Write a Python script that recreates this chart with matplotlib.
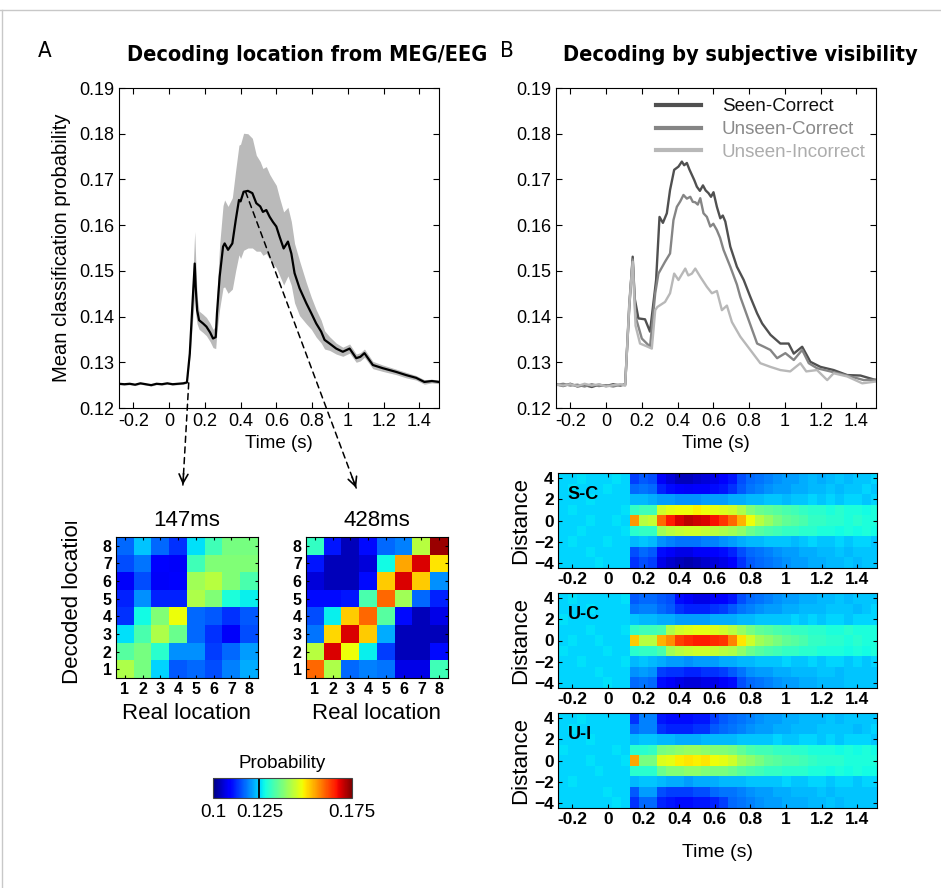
import numpy as np
import matplotlib
matplotlib.use('Agg')
import matplotlib.pyplot as plt
from matplotlib import font_manager
from matplotlib.font_manager import FontProperties
from matplotlib.patches import ConnectionPatch
from matplotlib.lines import Line2D
from matplotlib.transforms import Bbox, TransformedBbox

names = {f.name for f in font_manager.fontManager.ttflist}
base_font = 'Liberation Sans' if 'Liberation Sans' in names else 'DejaVu Sans'
plt.rcParams['font.family'] = [base_font, 'DejaVu Sans']


def find_narrow(bold):
    # look for a condensed sans file (Liberation Sans Narrow / DejaVu Sans Condensed)
    for f in font_manager.fontManager.ttflist:
        fn = f.fname.lower().replace('-', '').replace('_', '')
        if 'sans' not in fn or 'mono' in fn or 'italic' in fn or 'oblique' in fn:
            continue
        if 'narrow' in fn or 'condensed' in fn:
            if ('bold' in fn) == bold:
                return f.fname
    return None


narrow_bold = find_narrow(True)
narrow_reg = find_narrow(False)

# ---- panel A: mean decoding curve +- sem
a_t = [-0.28, -0.25, -0.22, -0.19, -0.16, -0.13, -0.10, -0.07, -0.04, -0.01, 0.02, 0.05, 0.08, 0.10,
       0.116, 0.13, 0.1436, 0.149, 0.157, 0.168, 0.19, 0.209, 0.23, 0.246,
       0.261, 0.268, 0.283, 0.302, 0.311, 0.33, 0.354, 0.373, 0.391, 0.40,
       0.417, 0.441, 0.466, 0.488, 0.51, 0.525, 0.544, 0.563, 0.581, 0.60,
       0.618, 0.641, 0.665, 0.684, 0.702, 0.73, 0.768, 0.796, 0.823, 0.851,
       0.87, 0.898, 0.935, 0.972, 1.01, 1.047, 1.07, 1.093, 1.14, 1.196,
       1.27, 1.326, 1.382, 1.428, 1.47, 1.51]
a_mean = [0.1253, 0.1252, 0.1253, 0.1251, 0.1254, 0.1252, 0.1250, 0.1253, 0.1252, 0.1254, 0.1252, 0.1253, 0.1254, 0.1256,
          0.1319, 0.1421, 0.1516, 0.1465, 0.1414, 0.1392, 0.1385, 0.1378, 0.1365, 0.1352,
          0.1355, 0.1407, 0.1487, 0.1553, 0.1560, 0.1546, 0.1560, 0.1611, 0.1655, 0.1652,
          0.1673, 0.1675, 0.1670, 0.1648, 0.1641, 0.1629, 0.1633, 0.1618, 0.1607, 0.1597,
          0.1575, 0.1549, 0.1564, 0.1538, 0.1495, 0.1462, 0.1429, 0.1407, 0.1385, 0.1367,
          0.1349, 0.1341, 0.1330, 0.1323, 0.1330, 0.1309, 0.1312, 0.1320, 0.1294, 0.1287,
          0.1279, 0.1272, 0.1266, 0.1257, 0.1259, 0.1257]
a_sem = [0.0002] * 14 + [
    0.001, 0.004, 0.007, 0.006, 0.003, 0.002, 0.002, 0.002, 0.002, 0.002,
    0.0025, 0.004, 0.007, 0.009, 0.0095, 0.0095, 0.010, 0.011, 0.012, 0.0125,
    0.0128, 0.0125, 0.012, 0.0105, 0.0098, 0.0095, 0.0095, 0.0093, 0.0092, 0.009,
    0.0085, 0.008, 0.0075, 0.007, 0.0065, 0.006, 0.0045, 0.0035, 0.003, 0.0025,
    0.002, 0.0015, 0.0012, 0.001, 0.001, 0.0009, 0.0009, 0.0009, 0.0008, 0.0007,
    0.0006, 0.0006, 0.0005, 0.0005, 0.0004, 0.0004]

# ---- panel B: three visibility conditions
base_t = [-0.28, -0.24, -0.20, -0.16, -0.12, -0.08, -0.04, 0.0, 0.04, 0.08, 0.107]
sc_t = base_t + [0.13, 0.149, 0.16, 0.181, 0.218, 0.246, 0.258, 0.28, 0.299, 0.318,
                 0.34, 0.358, 0.381, 0.405, 0.424, 0.437, 0.452, 0.466, 0.48, 0.494,
                 0.508, 0.525, 0.542, 0.557, 0.573, 0.587, 0.601, 0.62, 0.639, 0.653,
                 0.667, 0.695, 0.732, 0.77, 0.807, 0.845, 0.873, 0.92, 0.975,
                 1.021, 1.05, 1.097, 1.143, 1.199, 1.273, 1.349, 1.423, 1.51]
sc_v = [0.1252, 0.1248, 0.1253, 0.1247, 0.1250, 0.1246, 0.1251, 0.1248, 0.1252, 0.1249, 0.1252,
        0.1420, 0.1531, 0.1440, 0.1396, 0.1394, 0.1367, 0.1407, 0.1480, 0.1618, 0.1605,
        0.1626, 0.1677, 0.1721, 0.1728, 0.1739, 0.1731, 0.1736, 0.1722, 0.1710, 0.1698,
        0.1684, 0.1675, 0.1687, 0.1676, 0.1670, 0.1662, 0.1672, 0.1640, 0.1615, 0.1621,
        0.1608, 0.1553, 0.1509, 0.1480, 0.1443, 0.1407, 0.1385, 0.1360, 0.1341,
        0.1341, 0.1319, 0.1334, 0.1301, 0.1290, 0.1283, 0.1272, 0.1271, 0.1261]
uc_t = base_t + [0.13, 0.149, 0.165, 0.20, 0.246, 0.275, 0.293, 0.33, 0.358, 0.377,
                 0.396, 0.415, 0.433, 0.452, 0.471, 0.485, 0.499, 0.513, 0.527, 0.545,
                 0.564, 0.583, 0.60, 0.62, 0.638, 0.657, 0.695,
                 0.732, 0.751, 0.798, 0.845, 0.883, 0.919, 0.957, 1.003, 1.05, 1.097,
                 1.134, 1.18, 1.255, 1.349, 1.442, 1.51]
uc_v = [0.1250, 0.1253, 0.1249, 0.1251, 0.1247, 0.1252, 0.1248, 0.1250, 0.1247, 0.1251, 0.1250,
        0.1430, 0.1525, 0.1400, 0.1352, 0.1334, 0.1451, 0.1494, 0.1520, 0.1538, 0.1611,
        0.1640, 0.1652, 0.1666, 0.1658, 0.1662, 0.1651, 0.1650, 0.1645, 0.1659, 0.1626,
        0.1618, 0.1597, 0.1603, 0.1589, 0.1572, 0.1546, 0.1509,
        0.1470, 0.1443, 0.1392, 0.1341, 0.1334, 0.1327, 0.1309, 0.1320, 0.1305, 0.1327,
        0.1298, 0.1287, 0.1280, 0.1271, 0.1261, 0.1262]
ui_t = base_t + [0.13, 0.149, 0.165, 0.19, 0.227, 0.256, 0.275, 0.287, 0.33, 0.358,
                 0.381, 0.405, 0.443, 0.46, 0.48, 0.499, 0.527, 0.564, 0.592, 0.62, 0.648,
                 0.676, 0.704, 0.751, 0.807, 0.863, 0.919, 0.975, 1.03, 1.087, 1.12,
                 1.18, 1.237, 1.273, 1.349, 1.433, 1.51]
ui_v = [0.1251, 0.1249, 0.1252, 0.1248, 0.1253, 0.1249, 0.1252, 0.1247, 0.1250, 0.1252, 0.1249,
        0.1425, 0.1520, 0.1380, 0.1341, 0.1335, 0.1330, 0.1414, 0.1421, 0.1432, 0.1451,
        0.1494, 0.1480, 0.1505, 0.1490, 0.1494, 0.1505, 0.1487, 0.1465, 0.1451, 0.1456, 0.1414,
        0.1424, 0.1388, 0.1356, 0.1327, 0.1298, 0.1290, 0.1283, 0.1280, 0.1298, 0.1280,
        0.1283, 0.1261, 0.1276, 0.1269, 0.1254, 0.1258]
cond_labels = ['Seen-Correct', 'Unseen-Correct', 'Unseen-Incorrect']

# ---- confusion matrices (rows = decoded location 8..1, cols = real location 1..8)
mat_147 = [[0.117, 0.124, 0.117, 0.113, 0.126, 0.132, 0.137, 0.137],
           [0.115, 0.118, 0.109, 0.108, 0.132, 0.138, 0.138, 0.138],
           [0.108, 0.115, 0.108, 0.109, 0.141, 0.143, 0.138, 0.133],
           [0.112, 0.120, 0.112, 0.112, 0.142, 0.138, 0.129, 0.127],
           [0.113, 0.128, 0.138, 0.148, 0.117, 0.116, 0.113, 0.116],
           [0.126, 0.133, 0.142, 0.136, 0.117, 0.113, 0.108, 0.115],
           [0.134, 0.137, 0.130, 0.120, 0.120, 0.114, 0.117, 0.121],
           [0.142, 0.137, 0.125, 0.116, 0.117, 0.115, 0.119, 0.122]]
mat_428 = [[0.131, 0.111, 0.104, 0.110, 0.117, 0.119, 0.143, 0.173],
           [0.111, 0.104, 0.104, 0.106, 0.128, 0.155, 0.169, 0.150],
           [0.106, 0.104, 0.104, 0.110, 0.152, 0.169, 0.152, 0.120],
           [0.110, 0.110, 0.111, 0.133, 0.160, 0.141, 0.117, 0.112],
           [0.115, 0.127, 0.152, 0.160, 0.134, 0.110, 0.104, 0.107],
           [0.118, 0.151, 0.169, 0.152, 0.122, 0.104, 0.104, 0.104],
           [0.143, 0.169, 0.148, 0.127, 0.114, 0.104, 0.104, 0.110],
           [0.160, 0.142, 0.117, 0.119, 0.118, 0.107, 0.107, 0.132]]

# ---- time x distance maps (x1000), rows = distance 4 .. -4
hm_times = [-0.25, -0.2, -0.15, -0.1, -0.05, 0.0, 0.05, 0.1, 0.15, 0.2, 0.25, 0.3, 0.35, 0.4,
            0.45, 0.5, 0.55, 0.6, 0.65, 0.7, 0.75, 0.8, 0.85, 0.9, 0.95, 1.0, 1.05, 1.1,
            1.15, 1.2, 1.25, 1.3, 1.35, 1.4, 1.45, 1.5]
hm_dist = [4, 3, 2, 1, 0, -1, -2, -3, -4]
sc_map = [
    [125, 125, 126, 125, 125, 125, 126, 125, 114, 116, 115, 108, 106, 104, 104, 105, 106, 107, 109, 111, 115, 117, 118, 119, 120, 121, 121, 122, 123, 122, 123, 124, 123, 124, 124, 125],
    [125, 126, 125, 125, 125, 126, 125, 125, 117, 118, 117, 112, 110, 109, 108, 109, 109, 110, 111, 113, 116, 118, 119, 120, 121, 121, 122, 122, 123, 123, 124, 123, 124, 124, 125, 124],
    [125, 125, 125, 126, 125, 125, 125, 125, 123, 123, 122, 121, 121, 120, 120, 120, 121, 121, 121, 122, 122, 123, 123, 124, 124, 123, 124, 124, 125, 124, 125, 124, 125, 125, 124, 125],
    [125, 126, 125, 125, 125, 125, 125, 126, 131, 132, 132, 145, 147, 148, 148, 149, 148, 147, 146, 145, 142, 138, 136, 135, 134, 133, 132, 131, 130, 130, 129, 130, 129, 129, 128, 129],
    [125, 125, 125, 126, 125, 125, 126, 125, 156, 143, 144, 160, 166, 169, 171, 170, 169, 167, 164, 160, 154, 148, 143, 140, 137, 135, 134, 133, 131, 131, 130, 130, 129, 130, 129, 129],
    [125, 125, 126, 125, 125, 125, 125, 126, 130, 131, 131, 141, 143, 144, 145, 145, 144, 143, 142, 141, 139, 136, 134, 133, 132, 131, 131, 130, 130, 129, 129, 128, 129, 128, 129, 128],
    [125, 126, 125, 125, 125, 126, 125, 125, 123, 124, 123, 120, 119, 118, 118, 118, 119, 119, 120, 121, 122, 123, 123, 124, 124, 124, 123, 124, 125, 124, 124, 125, 124, 125, 125, 124],
    [125, 125, 125, 126, 125, 125, 125, 125, 115, 117, 116, 110, 108, 107, 107, 108, 108, 109, 110, 112, 115, 117, 118, 119, 120, 121, 121, 122, 122, 123, 123, 124, 123, 124, 124, 124],
    [125, 125, 125, 125, 126, 125, 125, 125, 113, 115, 114, 107, 105, 104, 103, 104, 105, 106, 107, 109, 113, 116, 117, 118, 119, 120, 121, 121, 122, 122, 123, 123, 124, 123, 124, 124]]
uc_map = [
    [125, 126, 125, 125, 125, 125, 125, 126, 116, 117, 117, 116, 115, 110, 108, 107, 107, 108, 109, 111, 115, 117, 118, 119, 120, 121, 121, 122, 122, 123, 123, 124, 123, 124, 124, 124],
    [125, 125, 125, 126, 125, 125, 125, 125, 118, 119, 119, 117, 116, 113, 112, 112, 112, 113, 114, 116, 118, 119, 120, 121, 121, 122, 122, 123, 123, 123, 124, 124, 124, 123, 124, 125],
    [126, 125, 125, 125, 125, 125, 125, 125, 124, 123, 123, 122, 122, 121, 121, 121, 121, 122, 122, 122, 123, 123, 124, 124, 124, 124, 125, 124, 125, 124, 125, 125, 124, 125, 125, 125],
    [125, 125, 125, 126, 125, 125, 125, 126, 131, 132, 132, 133, 142, 145, 146, 147, 147, 146, 145, 143, 140, 137, 135, 134, 133, 132, 131, 131, 130, 130, 129, 129, 130, 129, 129, 129],
    [125, 126, 125, 125, 126, 125, 125, 125, 152, 143, 143, 154, 157, 163, 165, 166, 166, 165, 164, 158, 150, 145, 141, 139, 137, 135, 134, 133, 131, 131, 130, 130, 129, 130, 129, 129],
    [126, 125, 125, 125, 125, 126, 125, 125, 130, 131, 131, 133, 141, 143, 144, 145, 145, 144, 143, 142, 139, 136, 134, 133, 132, 131, 131, 130, 130, 129, 129, 129, 128, 129, 128, 129],
    [125, 125, 126, 125, 125, 125, 125, 126, 123, 124, 123, 122, 121, 121, 120, 121, 121, 121, 122, 122, 123, 123, 124, 124, 124, 125, 124, 124, 125, 124, 125, 125, 124, 125, 124, 125],
    [125, 125, 125, 125, 126, 125, 125, 125, 120, 121, 120, 114, 113, 113, 112, 112, 113, 113, 114, 116, 118, 120, 121, 121, 122, 122, 123, 123, 123, 124, 124, 123, 124, 124, 124, 124],
    [125, 125, 125, 125, 125, 126, 125, 125, 117, 118, 117, 110, 108, 107, 106, 106, 107, 107, 108, 110, 115, 117, 118, 119, 120, 121, 121, 122, 122, 123, 123, 123, 124, 124, 124, 124]]
ui_map = [
    [125, 125, 126, 125, 125, 125, 125, 125, 113, 119, 119, 111, 110, 110, 110, 111, 111, 114, 116, 117, 118, 119, 120, 121, 121, 122, 122, 123, 123, 123, 124, 123, 124, 124, 124, 124],
    [125, 126, 125, 125, 125, 125, 125, 125, 117, 119, 119, 113, 112, 112, 112, 113, 113, 116, 117, 118, 119, 120, 121, 121, 122, 122, 123, 123, 123, 124, 124, 124, 124, 123, 124, 125],
    [125, 125, 125, 126, 125, 125, 125, 125, 123, 124, 124, 123, 123, 122, 122, 122, 123, 123, 123, 123, 124, 124, 124, 124, 125, 124, 124, 125, 125, 124, 125, 124, 125, 125, 125, 124],
    [126, 125, 125, 125, 125, 125, 126, 125, 130, 130, 131, 137, 138, 139, 140, 140, 139, 138, 138, 137, 135, 133, 132, 132, 131, 131, 130, 130, 129, 129, 129, 128, 129, 128, 129, 128],
    [125, 125, 125, 126, 125, 125, 125, 126, 155, 137, 137, 146, 147, 149, 150, 149, 150, 148, 147, 145, 141, 139, 137, 135, 134, 133, 133, 132, 131, 130, 130, 130, 129, 129, 129, 129],
    [125, 125, 125, 125, 126, 125, 125, 125, 130, 130, 130, 136, 138, 138, 139, 139, 138, 137, 137, 136, 134, 133, 132, 131, 131, 130, 130, 130, 129, 129, 128, 129, 128, 129, 128, 128],
    [125, 126, 125, 125, 125, 125, 125, 125, 123, 124, 124, 123, 122, 122, 121, 122, 122, 122, 123, 123, 123, 124, 124, 124, 124, 125, 124, 124, 125, 125, 124, 125, 125, 124, 125, 125],
    [125, 125, 125, 125, 125, 126, 125, 125, 116, 121, 121, 115, 114, 114, 114, 115, 115, 117, 118, 118, 119, 120, 121, 121, 122, 122, 123, 123, 123, 124, 123, 124, 124, 124, 124, 124],
    [125, 125, 125, 125, 125, 125, 126, 125, 113, 117, 117, 112, 111, 110, 110, 111, 111, 112, 114, 117, 118, 119, 120, 121, 121, 122, 122, 122, 123, 123, 124, 123, 124, 124, 124, 124]]
map_labels = ['S-C', 'U-C', 'U-I']

time_ticks = [-0.2, 0, 0.2, 0.4, 0.6, 0.8, 1, 1.2, 1.4]
time_ticklabels = ['-0.2', '0', '0.2', '0.4', '0.6', '0.8', '1', '1.2', '1.4']
prob_ticks = [0.12, 0.13, 0.14, 0.15, 0.16, 0.17, 0.18, 0.19]
vmin, vmax, chance = 0.1, 0.175, 0.125

W, H = 941, 888
fig = plt.figure(figsize=(W / 100, H / 100), dpi=100)


def box(l, t, r, b):
    return [l / W, 1 - b / H, (r - l) / W, (b - t) / H]


def inward(ax, size, bold=False):
    ax.tick_params(direction='in', top=True, right=True, length=4, width=0.8, labelsize=size)
    if bold:
        for lab in ax.get_xticklabels() + ax.get_yticklabels():
            lab.set_fontweight('bold')


def headline(x, y, s, bold, target_w=None, size=16):
    if bold:
        fp = FontProperties(fname=narrow_bold) if narrow_bold else FontProperties(family=base_font, weight='bold')
    else:
        fp = FontProperties(fname=narrow_reg) if narrow_reg else FontProperties(family=base_font)
    fp.set_size(size)
    t = fig.text(x / W, 1 - y / H, s, fontproperties=fp, ha='center', va='center')
    if target_w:
        fig.canvas.draw()
        w = t.get_window_extent().width
        fp.set_size(size * target_w / w)
        t.set_fontproperties(fp)
    return t


# figure frame (top and left edges)
fig.add_artist(Line2D([0, 1], [1 - 10 / H, 1 - 10 / H], transform=fig.transFigure, color='#c8c8c8', lw=1))
fig.add_artist(Line2D([1.5 / W, 1.5 / W], [0, 1 - 10 / H], transform=fig.transFigure, color='#c8c8c8', lw=1))

headline(45, 51, 'A', False, size=16)
headline(307, 55, 'Decoding location from MEG/EEG', True, target_w=362)
headline(507, 51, 'B', False, size=16)
headline(740, 55, 'Decoding by subjective visibility', True, target_w=356)

# panel A
axA = fig.add_axes(box(119, 88, 439, 408))
a_t_arr = np.array(a_t)
a_mean_arr = np.array(a_mean)
a_sem_arr = np.array(a_sem)
axA.fill_between(a_t_arr, a_mean_arr - a_sem_arr, a_mean_arr + a_sem_arr, color='#bababa', lw=0)
axA.plot(a_t_arr, a_mean_arr, color='black', lw=1.6)
axA.set_xlim(-0.28, 1.51)
axA.set_ylim(0.12, 0.19)
axA.set_xticks(time_ticks, time_ticklabels)
axA.set_yticks(prob_ticks, [f'{v:g}' for v in prob_ticks])
inward(axA, 13)
axA.set_xlabel('Time (s)', fontsize=13.5, labelpad=4)
axA.set_ylabel('Mean classification probability', fontsize=14.5, labelpad=6)

# panel B
axB = fig.add_axes(box(556, 88, 876, 408))
line_colors = ['#505050', '#858585', '#b8b8b8']
text_colors = ['#111111', '#8a8a8a', '#adadad']
for t, v, c, lab in zip([sc_t, uc_t, ui_t], [sc_v, uc_v, ui_v], line_colors, cond_labels):
    axB.plot(t, v, color=c, lw=1.7, label=lab)
axB.set_xlim(-0.28, 1.51)
axB.set_ylim(0.12, 0.19)
axB.set_xticks(time_ticks, time_ticklabels)
axB.set_yticks(prob_ticks, [f'{v:g}' for v in prob_ticks])
inward(axB, 13)
axB.set_xlabel('Time (s)', fontsize=13.5, labelpad=4)
leg = axB.legend(loc='upper right', frameon=False, fontsize=13.5, handlelength=2.4,
                 handletextpad=1.1, labelspacing=0.3, borderaxespad=0.15)
for txt, c in zip(leg.get_texts(), text_colors):
    txt.set_color(c)
for ln in leg.get_lines():
    ln.set_linewidth(3)

# confusion matrices
locs = [1, 2, 3, 4, 5, 6, 7, 8]
mat_axes = []
for (l, r), mat, title in [((116, 258), mat_147, '147ms'), ((306, 448), mat_428, '428ms')]:
    ax = fig.add_axes(box(l, 537, r, 678))
    im = ax.imshow(np.array(mat), cmap='jet', vmin=vmin, vmax=vmax, origin='upper',
                   extent=[0.5, 8.5, 0.5, 8.5], aspect='auto', interpolation='nearest')
    ax.set_xticks(locs)
    ax.set_yticks(locs)
    inward(ax, 11.5, bold=True)
    ax.tick_params(length=2.5, pad=3)
    ax.set_title(title, fontsize=16, pad=8)
    ax.set_xlabel('Real location', fontsize=16, labelpad=4)
    mat_axes.append(ax)

dl = fig.text(72 / W, 1 - 684 / H, 'Decoded location', rotation=90, fontsize=16,
              ha='center', va='bottom')
dl.set_clip_box(TransformedBbox(Bbox([[0, 0], [1, 1 - 522 / H]]), fig.transFigure))
dl.set_clip_on(True)

# dashed arrows from the curve to the matrices
for start, ax, end in [((0.11, 0.1255), mat_axes[0], (0.47, 1.35)),
                       ((0.428, 0.1673), mat_axes[1], (0.36, 1.33))]:
    fig.add_artist(ConnectionPatch(xyA=start, coordsA=axA.transData, xyB=end, coordsB=ax.transAxes,
                                   linestyle=(0, (4, 3)), lw=1.1, color='black'))
    s = ax.transAxes.inverted().transform(axA.transData.transform(start))
    e = np.array(end)
    d = (s - e) / np.linalg.norm(s - e)
    ax.annotate('', xy=e, xycoords='axes fraction', xytext=e + 0.12 * d, textcoords='axes fraction',
                arrowprops=dict(arrowstyle='->', color='black', lw=1.2, mutation_scale=16),
                annotation_clip=False)

# colorbar
cax = fig.add_axes(box(213, 778, 352, 798))
cb = fig.colorbar(im, cax=cax, orientation='horizontal', ticks=[0.1, 0.125, 0.175])
cb.ax.set_xticklabels(['0.1', '0.125', '0.175'])
cb.ax.tick_params(length=0, labelsize=13.5, pad=4)
cb.outline.set_linewidth(0.8)
cb.outline.set_edgecolor('#444444')
cax.axvline(chance, color='black', lw=1.3)
cax.set_title('Probability', fontsize=13.5, pad=7)

# time x distance maps
cmap = plt.get_cmap('jet')
dist_arr = np.array(hm_dist[::-1])
for i, ((t, b), data, lab) in enumerate(zip([(473, 568), (593, 688), (713, 808)],
                                            [sc_map, uc_map, ui_map], map_labels)):
    ax = fig.add_axes(box(558, t, 877, b))
    ax.set_facecolor(cmap((chance - vmin) / (vmax - vmin)))
    z = np.array(data, dtype=float)[::-1] / 1000.0
    ax.pcolormesh(hm_times, dist_arr, z, cmap='jet', vmin=vmin, vmax=vmax, shading='nearest')
    ax.set_xlim(-0.28, 1.51)
    ax.set_ylim(-4.5, 4.5)
    ax.set_xticks(time_ticks, time_ticklabels)
    ax.set_yticks([-4, -2, 0, 2, 4])
    inward(ax, 12.5, bold=True)
    ax.tick_params(length=3, pad=3)
    ax.set_ylabel('Distance', fontsize=16, labelpad=2)
    ax.text(0.03, 0.77, lab, transform=ax.transAxes, fontsize=13, fontweight='bold', va='center')
    if i == 2:
        ax.set_xlabel('Time (s)', fontsize=14, labelpad=12)

fig.savefig('out.png', dpi=100)
